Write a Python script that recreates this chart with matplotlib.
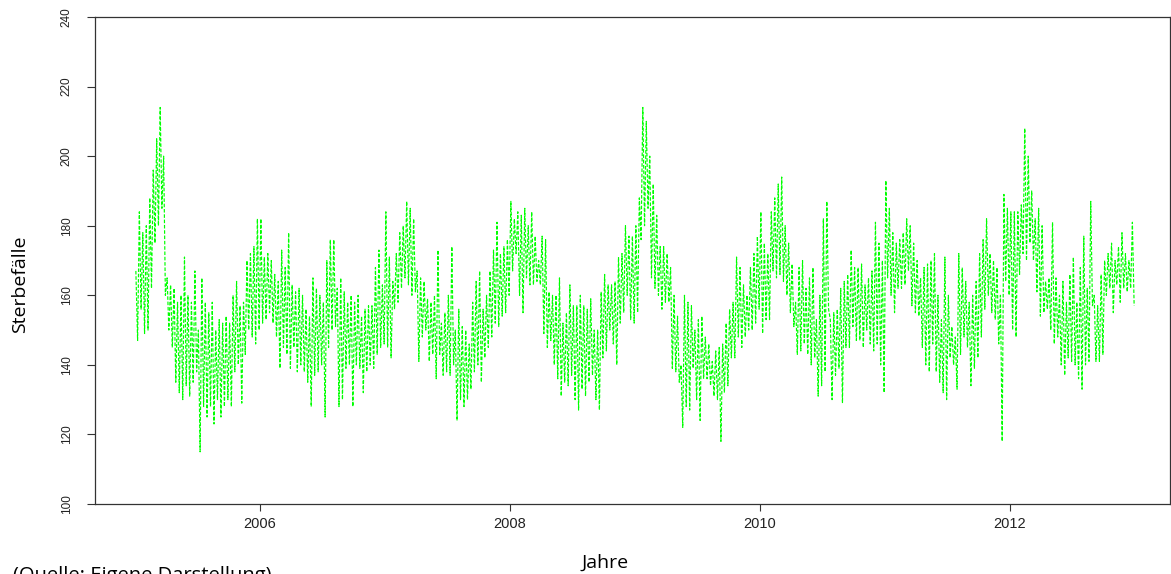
import matplotlib.pyplot as plt
import numpy as np

# Daily deaths, read off the picture as high/low envelope per ten-day period
# (36 periods per year)
years = [2005, 2006, 2007, 2008, 2009, 2010, 2011, 2012]

hi_2005 = [167, 184, 178, 180, 188, 196, 205, 214, 200, 165, 163, 162,
           158, 160, 171, 160, 158, 167, 150, 165, 158, 155, 158, 150,
           153, 152, 154, 152, 160, 164, 157, 158, 170, 172, 174, 182]
lo_2005 = [147, 156, 149, 150, 162, 175, 180, 185, 160, 150, 145, 135,
           132, 130, 134, 131, 135, 138, 115, 128, 125, 128, 123, 130,
           125, 128, 130, 128, 138, 140, 129, 143, 150, 148, 146, 150]

hi_2006 = [182, 171, 172, 170, 166, 164, 173, 168, 178, 163, 161, 162,
           160, 156, 154, 165, 162, 160, 158, 170, 176, 176, 162, 165,
           161, 158, 160, 158, 160, 154, 156, 157, 157, 168, 173, 163]
lo_2006 = [152, 153, 155, 152, 148, 139, 145, 143, 139, 145, 138, 140,
           138, 135, 128, 137, 138, 140, 125, 145, 150, 151, 128, 130,
           139, 140, 128, 140, 139, 132, 138, 140, 139, 143, 145, 146]

hi_2007 = [184, 171, 164, 172, 178, 180, 187, 185, 182, 167, 165, 164,
           159, 158, 160, 173, 152, 155, 160, 174, 150, 156, 151, 150,
           146, 158, 164, 167, 156, 160, 167, 173, 181, 172, 174, 176]
lo_2007 = [145, 142, 156, 158, 162, 165, 163, 160, 161, 141, 148, 150,
           141, 143, 136, 143, 137, 138, 137, 140, 124, 130, 128, 130,
           133, 138, 140, 135, 142, 145, 148, 152, 151, 154, 155, 160]

hi_2008 = [187, 182, 184, 183, 185, 180, 184, 177, 170, 177, 176, 161,
           160, 160, 165, 152, 155, 163, 157, 157, 160, 157, 156, 159,
           150, 150, 161, 166, 163, 163, 164, 171, 172, 180, 177, 177]
lo_2008 = [167, 172, 160, 155, 165, 163, 163, 164, 163, 149, 145, 147,
           140, 136, 131, 135, 134, 137, 130, 127, 133, 131, 135, 137,
           130, 127, 142, 144, 150, 146, 140, 152, 155, 160, 153, 152]

hi_2009 = [180, 188, 214, 210, 200, 192, 183, 174, 174, 172, 168, 160,
           154, 140, 160, 158, 157, 150, 153, 154, 148, 146, 141, 144,
           145, 146, 152, 156, 158, 171, 168, 163, 160, 168, 172, 177]
lo_2009 = [155, 176, 180, 185, 165, 162, 160, 156, 158, 158, 139, 138,
           135, 122, 128, 127, 139, 130, 124, 136, 136, 134, 131, 130,
           118, 132, 134, 142, 142, 148, 145, 148, 150, 150, 152, 156]

hi_2010 = [184, 175, 172, 184, 188, 192, 194, 180, 175, 169, 158, 168,
           170, 162, 165, 168, 153, 160, 182, 187, 153, 155, 156, 162,
           164, 166, 173, 168, 168, 169, 163, 165, 167, 181, 175, 170]
lo_2010 = [149, 153, 153, 167, 165, 166, 164, 160, 155, 151, 143, 144,
           146, 143, 140, 142, 131, 134, 138, 156, 130, 137, 139, 129,
           145, 145, 151, 147, 147, 145, 150, 146, 144, 146, 140, 132]

hi_2011 = [193, 185, 178, 175, 176, 178, 182, 180, 175, 170, 165, 168,
           169, 170, 172, 160, 153, 171, 160, 151, 148, 172, 168, 164,
           158, 160, 164, 172, 176, 182, 172, 170, 168, 160, 189, 185]
lo_2011 = [165, 160, 155, 162, 162, 163, 167, 157, 155, 154, 145, 140,
           138, 146, 138, 135, 132, 130, 142, 140, 133, 143, 148, 145,
           134, 139, 142, 148, 156, 160, 155, 153, 146, 118, 164, 160]

hi_2012 = [184, 184, 184, 186, 208, 200, 190, 182, 185, 180, 164, 165,
           181, 165, 160, 164, 158, 166, 171, 158, 168, 177, 162, 187,
           160, 157, 166, 170, 172, 175, 170, 174, 178, 172, 170, 181]
lo_2012 = [150, 148, 166, 172, 170, 175, 170, 161, 154, 155, 156, 150,
           146, 148, 140, 137, 142, 141, 140, 136, 133, 140, 141, 157,
           141, 141, 143, 160, 162, 155, 163, 158, 162, 161, 162, 157]

highs = [hi_2005, hi_2006, hi_2007, hi_2008, hi_2009, hi_2010, hi_2011, hi_2012]
lows = [lo_2005, lo_2006, lo_2007, lo_2008, lo_2009, lo_2010, lo_2011, lo_2012]

x_ticks = [2006, 2008, 2010, 2012]
y_ticks = [100, 120, 140, 160, 180, 200, 220, 240]

# interleave high and low values so the line zigzags like the daily series
t, v = [], []
for yr, hi, lo in zip(years, highs, lows):
    for k in range(36):
        t += [yr + (k + 0.25) / 36, yr + (k + 0.75) / 36]
        v += [hi[k], lo[k]]

fig = plt.figure(figsize=(11.71, 5.74), dpi=100)
ax = fig.add_axes([95 / 1171, 70 / 574, 1075 / 1171, 487 / 574])

ax.plot(t, v, color='#00ff00', linewidth=0.85, linestyle=(0, (3, 1.5)))

ax.set_xlim(2004.68, 2013.28)
ax.set_ylim(100, 240)
ax.set_xticks(x_ticks)
ax.set_yticks(y_ticks)
ax.set_xticklabels([str(x) for x in x_ticks], fontsize=10.5,
                   family='Liberation Sans', color='#222222')
ax.set_yticklabels([str(y) for y in y_ticks], fontsize=8.5, rotation=90,
                   va='center', family='Liberation Sans', color='#222222')
ax.tick_params(axis='x', length=5, width=0.8, pad=4, color='#333333')
ax.tick_params(axis='y', length=6, width=0.8, pad=10, color='#333333')
for s in ax.spines.values():
    s.set_color('#333333')
    s.set_linewidth(0.9)

fig.text(20 / 1171, 1 - 284 / 574, 'Sterbefälle', fontsize=14,
         family='Open Sans', rotation=90, ha='center', va='center')
fig.text(605 / 1171, 1 - 563 / 574, 'Jahre', fontsize=14, family='Open Sans',
         ha='center', va='center')
fig.text(13 / 1171, -12 / 574, '(Quelle: Eigene Darstellung)', fontsize=14.5,
         family='Open Sans', ha='left', va='bottom')

fig.savefig('out.png', dpi=100)
